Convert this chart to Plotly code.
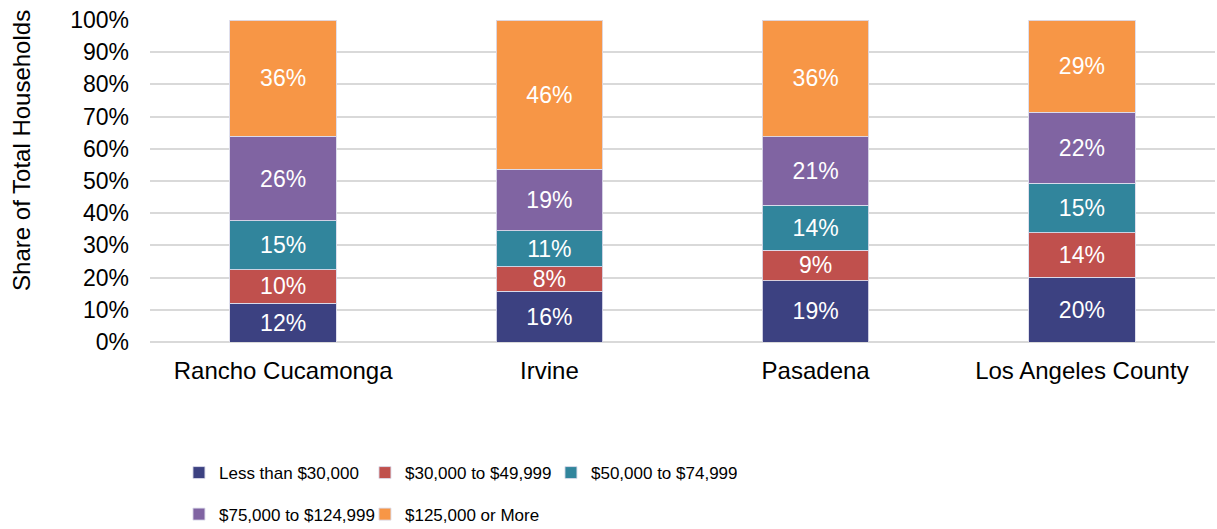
import plotly.graph_objects as go

categories = ["Rancho Cucamonga", "Irvine", "Pasadena", "Los Angeles County"]
series_names = ["Less than $30,000", "$30,000 to $49,999", "$50,000 to $74,999",
                "$75,000 to $124,999", "$125,000 or More"]
less_30k = [12.1, 15.7, 19.1, 20.1]
from_30k_50k = [10.4, 7.7, 9.4, 13.8]
from_50k_75k = [15.1, 11.2, 13.9, 15.4]
from_75k_125k = [26.3, 19.0, 21.3, 22.0]
over_125k = [36.1, 46.4, 36.3, 28.7]
series_values = [less_30k, from_30k_50k, from_50k_75k, from_75k_125k, over_125k]
colors = ["#3C4181", "#C0504D", "#31859C", "#8064A2", "#F79646"]
y_ticks = list(range(0, 101, 10))

FONT = "Liberation Sans, Arial, sans-serif"
fig = go.Figure()
for i, (name, vals, col) in enumerate(zip(series_names, series_values, colors)):
    fig.add_trace(go.Bar(
        x=categories, y=vals, name=name,
        marker=dict(color=col, line=dict(color="rgba(220,220,235,0.9)", width=1)),
        texttemplate="%{y:.0f}%", textposition="inside", insidetextanchor="middle",
        textangle=0, constraintext="none",
        textfont=dict(color="white", size=23, family=FONT),
        legend="legend" if i < 3 else "legend2",
    ))

legend_common = dict(orientation="h", entrywidth=141, entrywidthmode="pixels",
                     font=dict(size=17, family=FONT, color="black"),
                     bgcolor="rgba(0,0,0,0)", xanchor="left", yanchor="top",
                     itemclick=False, traceorder="normal")
fig.update_layout(
    width=1217, height=529,
    margin=dict(l=150, r=2, t=20, b=187, autoexpand=False),
    paper_bgcolor="white", plot_bgcolor="white",
    barmode="stack", bargap=0.6,
    font=dict(family=FONT, color="#000000"),
    xaxis=dict(tickfont=dict(size=24, family=FONT), ticklabelstandoff=12, showline=False,
               automargin=False),
    yaxis=dict(range=[0, 100], tickvals=y_ticks, ticktext=[f"{t}%" for t in y_ticks],
               tickfont=dict(size=23, family=FONT), showgrid=True, gridcolor="#D9D9D9",
               gridwidth=1.5, zeroline=True, zerolinecolor="#D9D9D9", zerolinewidth=1.5,
               ticklabelstandoff=20, automargin=False),
    legend=dict(x=0.0272, y=-0.351, **legend_common),
    legend2=dict(x=0.0272, y=-0.480, **legend_common),
    annotations=[dict(text="Share of Total Households", textangle=-90, xref="paper", yref="paper",
                      x=-0.120, y=0.594, xanchor="center", yanchor="middle", showarrow=False,
                      font=dict(size=24, family=FONT, color="black"))],
)
fig.write_html("out.html", config={"displayModeBar": False},
               post_script="document.body.style.margin='0';")
